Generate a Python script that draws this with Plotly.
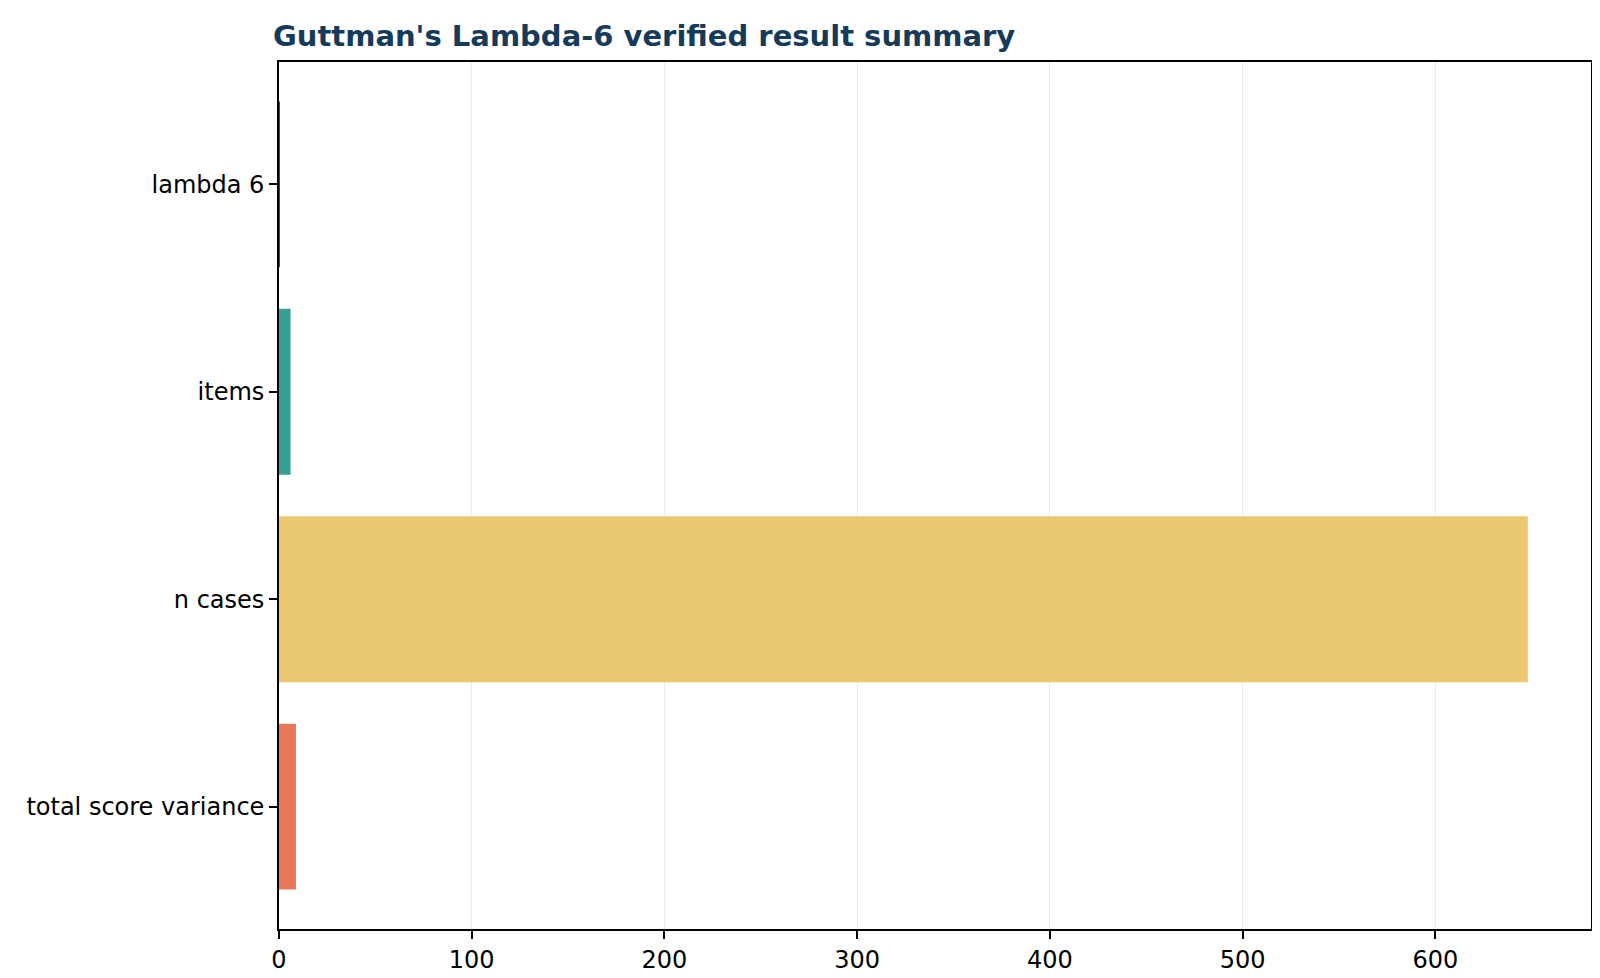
import plotly.graph_objects as go

categories = ["lambda 6", "items", "n cases", "total score variance"]
values = [0.2, 6, 648, 8.8]
colors = ["#2f505c", "#35a194", "#eac771", "#e87859"]
x_ticks = [0, 100, 200, 300, 400, 500, 600]

fig = go.Figure(
    go.Bar(
        y=categories,
        x=values,
        orientation="h",
        marker=dict(color=colors, line=dict(width=0)),
        width=0.8,
    )
)

fig.update_layout(
    width=1600,
    height=978,
    margin=dict(l=271, r=17, t=54, b=57),
    paper_bgcolor="white",
    plot_bgcolor="white",
    font=dict(family="DejaVu Sans", size=24, color="black"),
    showlegend=False,
    title=dict(
        text="<b>Guttman's Lambda-6 verified result summary</b>",
        font=dict(family="DejaVu Sans", size=29, color="#163a5a"),
        xref="container",
        x=265 / 1600,
        xanchor="left",
        yref="container",
        y=1 - 28 / 978,
        yanchor="middle",
    ),
    bargap=0.2,
)

axis_common = dict(
    zeroline=False,
    showline=True,
    linecolor="black",
    linewidth=1.7,
    mirror=True,
    ticks="outside",
    ticklen=8,
    tickwidth=1.5,
    tickcolor="black",
    tickfont=dict(size=24, family="DejaVu Sans", color="black"),
)

fig.update_xaxes(
    range=[0, 680.8],
    tickvals=x_ticks,
    showgrid=True,
    gridcolor="#ebebeb",
    gridwidth=1,
    **axis_common,
)
fig.update_yaxes(
    categoryorder="array",
    categoryarray=categories,
    range=[3.59, -0.59],
    showgrid=False,
    **axis_common,
)

fig.write_html("out.html")
